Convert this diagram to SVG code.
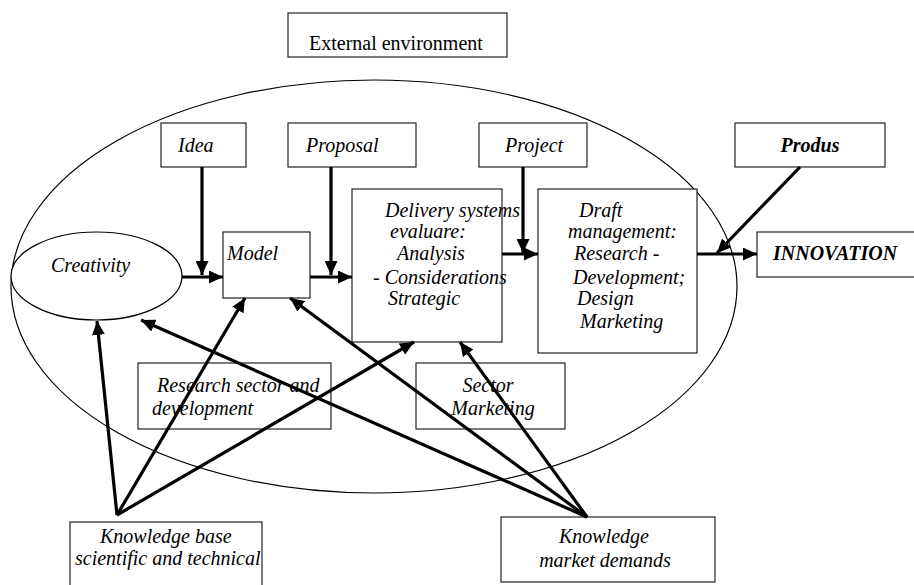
<svg xmlns="http://www.w3.org/2000/svg" width="914" height="585" viewBox="0 0 914 585">
<style>
.box{fill:#fff;stroke:#222;stroke-width:1.2}
.t{font-family:"Liberation Serif","Times New Roman",serif;font-size:20px;font-style:italic;fill:#000}
.b{font-weight:bold}
.r{font-style:normal}
.c{stroke:#000;stroke-width:3.2;fill:none;marker-end:url(#ah)}
</style>
<defs>
<marker id="ah" markerUnits="userSpaceOnUse" markerWidth="15" markerHeight="13" refX="14" refY="6.5" orient="auto">
<path d="M0,0 L14,6.5 L0,13 z" fill="#000"/>
</marker>
</defs>
<rect width="914" height="585" fill="#fff"/>
<ellipse id="environment" cx="374" cy="286.5" rx="363" ry="206.5" fill="none" stroke="#000" stroke-width="1.2"/>
<g id="external"><rect class="box" x="288" y="13" width="219" height="44"/><text class="t r" x="309" y="50">External environment</text></g>
<g id="idea"><rect class="box" x="161" y="123" width="85" height="44"/><text class="t" x="178" y="152">Idea</text></g>
<g id="proposal"><rect class="box" x="288" y="123" width="128" height="44"/><text class="t" x="306" y="152">Proposal</text></g>
<g id="project"><rect class="box" x="479" y="123" width="108" height="44"/><text class="t" x="505" y="152">Project</text></g>
<g id="produs"><rect class="box" x="735" y="123" width="150" height="44"/><text class="t b" x="810" y="152" text-anchor="middle">Produs</text></g>
<g id="creativity"><ellipse cx="96.5" cy="276" rx="85.5" ry="44" fill="#fff" stroke="#000" stroke-width="1.2"/><text class="t" x="51" y="272">Creativity</text></g>
<g id="model"><rect class="box" x="223" y="232" width="87" height="66"/><text class="t" x="227" y="260">Model</text></g>
<g id="delivery"><rect class="box" x="352" y="189" width="150" height="153"/>
<text class="t"><tspan x="385" y="217">Delivery systems</tspan><tspan x="390" y="238">evaluare:</tspan><tspan x="397" y="260">Analysis</tspan><tspan x="373" y="284">- Considerations</tspan><tspan x="388" y="305">Strategic</tspan></text></g>
<g id="draft"><rect class="box" x="538" y="189" width="159" height="164"/>
<text class="t"><tspan x="579" y="217">Draft</tspan><tspan x="568" y="238">management:</tspan><tspan x="574" y="260">Research -</tspan><tspan x="573" y="284">Development;</tspan><tspan x="577" y="305">Design</tspan><tspan x="580" y="328">Marketing</tspan></text></g>
<g id="innovation"><rect class="box" x="757" y="232" width="170" height="45"/><text class="t b" x="773" y="260" font-size="21">INNOVATION</text></g>
<g id="research"><rect class="box" x="138" y="363" width="193" height="66"/><text class="t"><tspan x="157" y="392">Research sector and</tspan><tspan x="152" y="415">development</tspan></text></g>
<g id="sector-marketing"><rect class="box" x="416" y="363" width="149" height="66"/><text class="t" text-anchor="middle"><tspan x="488" y="392">Sector</tspan><tspan x="493" y="415">Marketing</tspan></text></g>
<g id="knowledge-base"><rect class="box" x="70" y="522" width="192" height="70"/><text class="t"><tspan x="100" y="543">Knowledge base</tspan><tspan x="75" y="565">scientific and technical</tspan></text></g>
<g id="knowledge-market"><rect class="box" x="501" y="517" width="214" height="65"/><text class="t" text-anchor="middle"><tspan x="604" y="543">Knowledge</tspan><tspan x="605" y="567">market demands</tspan></text></g>
<g id="connectors">
<path class="c" d="M202,167 L202,275"/>
<path class="c" d="M182,277 L223,277"/>
<path class="c" d="M331,167 L331,275"/>
<path class="c" d="M310,277 L352,277"/>
<path class="c" d="M523,167 L523,253"/>
<path class="c" d="M502,254 L538,254"/>
<path class="c" d="M697,254 L757,254"/>
<path class="c" d="M800,167 L717,253"/>
<path class="c" d="M117,515 L97,321"/>
<path class="c" d="M117,515 L245,298"/>
<path class="c" d="M117,515 L414,342"/>
<path class="c" d="M587,517 L141,320"/>
<path class="c" d="M587,517 L290,298"/>
<path class="c" d="M587,517 L460,342"/>
</g>
</svg>
